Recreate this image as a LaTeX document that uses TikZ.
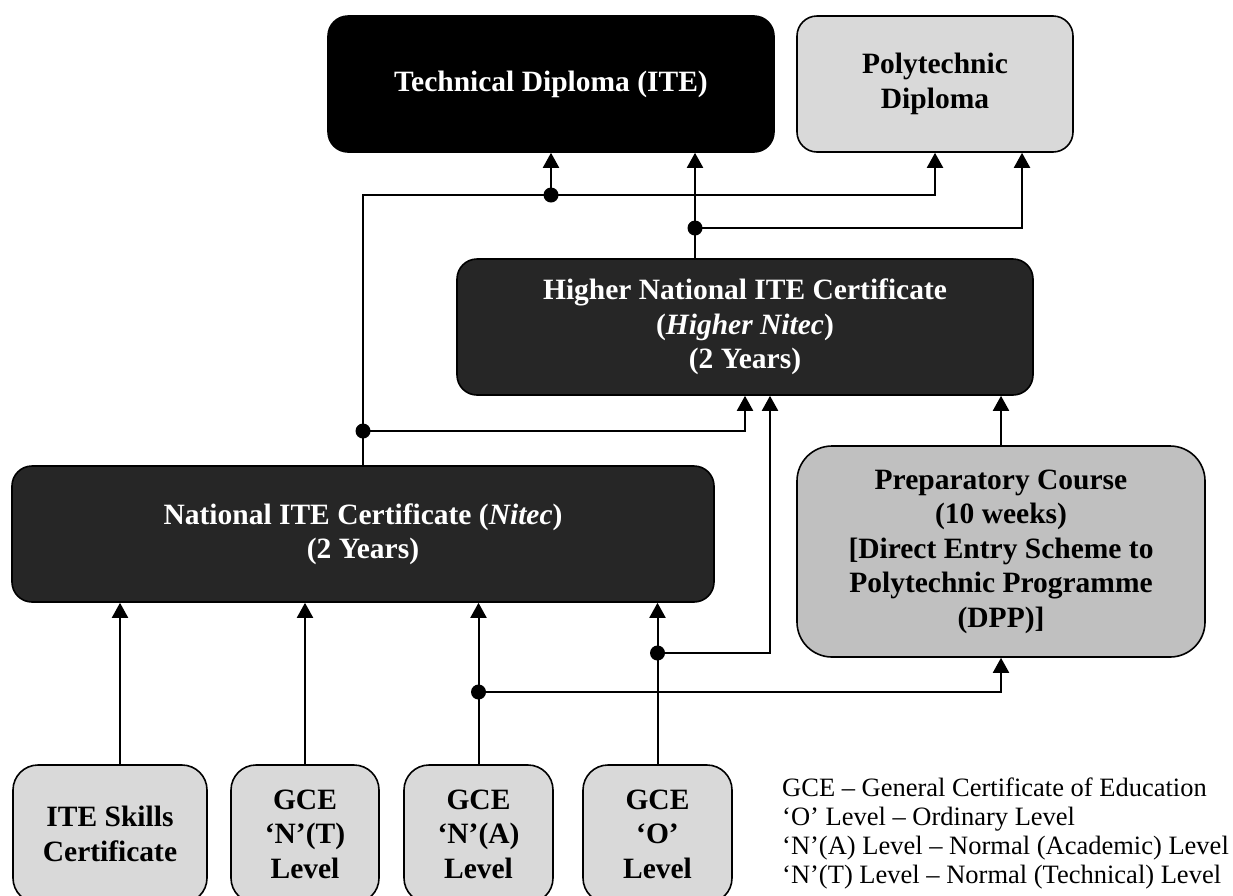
\documentclass[tikz,border=0pt]{standalone}
\usepackage{fontspec}
\setmainfont{Liberation Serif}
\usetikzlibrary{arrows.meta}

\definecolor{boxdark}{HTML}{262626}
\definecolor{boxlight}{HTML}{D9D9D9}
\definecolor{boxmid}{HTML}{C0C0C0}

\tikzset{
    card/.style={draw=black, line width=1.6pt, rounded corners=20pt, inner sep=0pt,
        align=center, font=\bfseries\fontsize{29.5}{34.5}\selectfont},
    darkcard/.style={card, fill=boxdark, text=white},
    lightcard/.style={card, fill=boxlight, text=black},
    link/.style={draw=black, line width=2pt},
    uplink/.style={link, -{Triangle[width=16pt,length=15pt]}}
}

\begin{document}
\begin{tikzpicture}[x=1pt, y=-1pt]
        \useasboundingbox (0,0) rectangle (1233,895);
        % upper level
        \node[darkcard, fill=black, minimum width=446pt, minimum height=136pt] (tech) at (551,84) {Technical Diploma (ITE)};
        \node[lightcard, minimum width=276pt, minimum height=136pt] (poly) at (935,84) {Polytechnic\\Diploma};
        \node[darkcard, minimum width=576pt, minimum height=136pt] (hnitec) at (745,327) {Higher National ITE Certificate\\(\textit{Higher Nitec})\\(2 Years)};
        \node[darkcard, minimum width=702pt, minimum height=136pt] (nitec) at (363,534) {National ITE Certificate (\textit{Nitec})\\(2 Years)};
        \node[card, fill=boxmid, rounded corners=35pt, minimum width=408pt, minimum height=211pt] (prep) at (1001,551.5) {Preparatory Course\\(10 weeks)\\{[}Direct Entry Scheme to\\Polytechnic Programme\\(DPP){]}};
        % entry qualifications
        \node[lightcard, rounded corners=25pt, minimum width=194pt, minimum height=138pt] (skills) at (110,834) {ITE Skills\\Certificate};
        \node[lightcard, rounded corners=25pt, minimum width=148pt, minimum height=138pt] (gcent) at (305,834) {GCE\\‘N’(T)\\Level};
        \node[lightcard, rounded corners=25pt, minimum width=149pt, minimum height=138pt] (gcena) at (478.5,834) {GCE\\‘N’(A)\\Level};
        \node[lightcard, rounded corners=25pt, minimum width=149pt, minimum height=138pt] (gceo) at (657.5,834) {GCE\\‘O’\\Level};

        % junctions
        \coordinate (jtech) at (551,195);
        \coordinate (jnitec) at (363,431);
        \coordinate (jhigher) at (695,228);
        \coordinate (jna) at (478.5,692);
        \coordinate (jo) at (657.5,653);

        % connectors
        \draw[uplink] (nitec.north) |- (poly.south |- jtech) -- (poly.south);
        \draw[uplink] (jtech) -- (jtech |- tech.south);
        \draw[uplink] (jnitec) -| (hnitec.south);
        \draw[uplink] (jhigher |- hnitec.north) -- (jhigher |- tech.south);
        \draw[uplink] (jhigher) -| ([xshift=87pt]poly.south);
        \draw[uplink] (prep.north) -- (prep.north |- hnitec.south);
        \draw[uplink] ([xshift=10pt]skills.north) -- ([xshift=10pt]skills.north |- nitec.south);
        \foreach \q in {gcent, gcena, gceo} {
                \draw[uplink] (\q.north) -- (\q.north |- nitec.south);
            }
        \draw[uplink] (jna) -| (prep.south);
        \draw[uplink] (jo) -| ([xshift=25pt]hnitec.south);
        \foreach \d in {jtech, jnitec, jhigher, jna, jo} {
                \fill[black] (\d) circle (7.5pt);
            }

        % legend
        \foreach \i/\t in {0/{GCE – General Certificate of Education},
                1/{‘O’ Level – Ordinary Level},
                2/{‘N’(A) Level – Normal (Academic) Level},
                3/{‘N’(T) Level – Normal (Technical) Level}} {
                \node[anchor=base west, inner sep=0pt, font=\fontsize{26.5}{29.5}\selectfont] (legend\i) at (782,796+29.3*\i) {\t};
            }
    \end{tikzpicture}
\end{document}
